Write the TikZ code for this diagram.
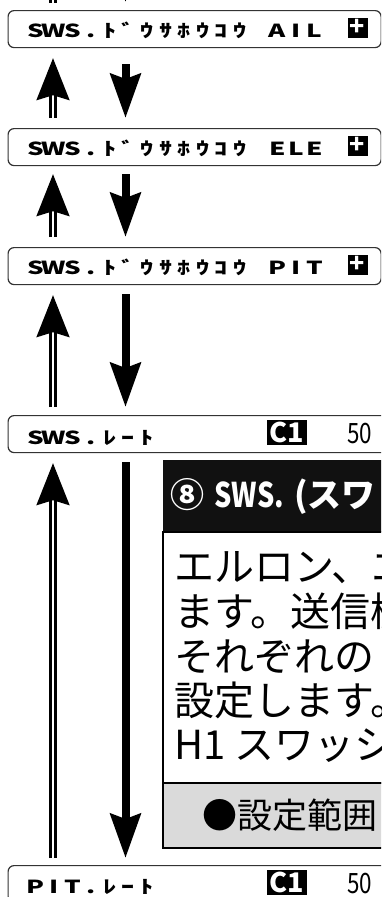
\documentclass[tikz,border=0pt]{standalone}
\usepackage{fontspec}
\usepackage{graphicx}
\usetikzlibrary{arrows.meta,calc}
\newfontfamily\jp{Noto Sans CJK JP}
\definecolor{boxline}{HTML}{333333}
\definecolor{hdrblack}{HTML}{111111}
\definecolor{graybg}{HTML}{DADADA}
\newcommand\lcdcell[1]{\makebox[18.6pt][c]{\scalebox{1.45}[1]{#1}}}
\def\lcdend{\lcdend}
\def\lcdrun#1{\ifx#1\lcdend\else\lcdcell{#1}\expandafter\lcdrun\fi}
\newcommand\lcd[1]{\lcdrun#1\lcdend}
\tikzset{
 lcdbox/.style={draw=boxline, line width=1.2pt, rounded corners=6pt, anchor=north west, minimum height=37pt, inner sep=0pt},
 uparr/.style={double=white, draw=black, line width=2.3pt, double distance=2.6pt, -{Stealth[length=42pt,width=33pt,inset=5pt]}},
 dnarr/.style={draw=black, line width=8pt, -{Stealth[length=44pt,width=30pt,inset=5pt]}},
 lcdtxt/.style={anchor=base west, inner sep=0pt, font=\jp\bfseries\fontsize{18}{18}\selectfont},
 plusbox/.style={fill=black, text=white, minimum size=20pt, inner sep=0pt, font=\jp\bfseries\fontsize{25}{25}\selectfont},
 cbox/.style={fill=black, text=white, minimum width=40pt, minimum height=25pt, inner sep=0pt, font=\jp\bfseries\fontsize{27}{27}\selectfont},
 bignum/.style={anchor=base west, inner sep=0pt, font=\jp\fontsize{28}{28}\selectfont},
 bodytxt/.style={anchor=base west, inner sep=0pt, font=\jp\fontsize{40}{40}\selectfont},
 graytxt/.style={anchor=base west, inner sep=0pt, font=\jp\fontsize{35}{35}\selectfont},
 hdrtxt/.style={anchor=base west, inner sep=0pt, text=white, font=\jp\bfseries\fontsize{34}{34}\selectfont},
}
\begin{document}
\begin{tikzpicture}[x=1pt,y=-1pt]
\useasboundingbox (0,0) rectangle (381,897);
\clip (0,0) rectangle (381,897);
\coordinate (ux) at (53,0);
\coordinate (dx) at (125.5,0);
% LCD boxes
\node[lcdbox, minimum width=373pt] (b1) at (7.5,10) {};
\node[lcdbox, minimum width=373pt] (b2) at (7.5,128) {};
\node[lcdbox, minimum width=373pt] (b3) at (7.5,247) {};
\node[lcdbox, minimum width=420pt] (b4) at (7.5,415) {};
\node[lcdbox, minimum width=420pt] (b5) at (7.5,865) {};
% LCD texts (baselines)
\node[lcdtxt] (t1) at (26,37.5) {\lcd{SWS.ﾄﾞｳｻﾎｳｺｳ~AIL}};
\node[lcdtxt] (t2) at (26,155.5) {\lcd{SWS.ﾄﾞｳｻﾎｳｺｳ~ELE}};
\node[lcdtxt] (t3) at (26,274.5) {\lcd{SWS.ﾄﾞｳｻﾎｳｺｳ~PIT}};
\node[lcdtxt] (t4) at (26,444.5) {\lcd{SWS.ﾚｰﾄ}};
\node[lcdtxt] (t5) at (26,893.5) {\lcd{PIT.ﾚｰﾄ}};
\node[plusbox] (p1) at (357.5,27.5) {+};
\node[plusbox] (p2) at (357.5,145.5) {+};
\node[plusbox] (p3) at (357.5,264.5) {+};
\node[cbox] (c4) at (287,432.5) {C1};
\node[cbox] (c5) at (287,882.5) {C1};
\node[bignum] (n4) at (347,443.5) {\scalebox{0.8}[1]{50}};
\node[bignum] (n5) at (347,893.5) {\scalebox{0.8}[1]{50}};
% arrows
\draw[uparr] ($(b1.north -| ux)+(0,-7)$) -- ++(0,-60);
\draw[dnarr] ($(b1.north -| dx)+(0,-80)$) -- ($(b1.north -| dx)+(0,-8)$);
\draw[uparr] ($(b2.north -| ux)+(0,-10)$) -- ($(b1.south -| ux)+(0,10)$);
\draw[dnarr] ($(b1.south -| dx)+(0,16)$) -- ($(b2.north -| dx)+(0,-10)$);
\draw[uparr] ($(b3.north -| ux)+(0,-10)$) -- ($(b2.south -| ux)+(0,8)$);
\draw[dnarr] ($(b2.south -| dx)+(0,8)$) -- ($(b3.north -| dx)+(0,-10)$);
\draw[uparr] ($(b4.north -| ux)+(0,-8)$) -- ($(b3.south -| ux)+(0,10)$);
\draw[dnarr] ($(b3.south -| dx)+(0,9)$) -- ($(b4.north -| dx)+(0,-8)$);
\draw[uparr] ($(b5.north -| ux)+(0,-7)$) -- ($(b4.south -| ux)+(0,10)$);
\draw[dnarr] ($(b4.south -| dx)+(0,9)$) -- ($(b5.north -| dx)+(0,-7)$);
% panel
\fill[hdrblack] (163,460) rectangle (420,532);
\draw[black, line width=2.5pt, fill=white] (163,532) rectangle (420,783);
\draw[black, line width=2.5pt, fill=graybg] (163,783) rectangle (420,848);
\node[hdrtxt] (h1) at (170,507) {⑧};
\node[hdrtxt] (h2) at (214,507) {\scalebox{0.8}[1]{SWS.}};
\node[hdrtxt] (h3) at (294,507) {(スワ};
\node[bodytxt] (l1) at (174,581) {エルロン、エ};
\node[bodytxt] (l2) at (174,626) {ます。送信機};
\node[bodytxt] (l3) at (174,671) {それぞれの};
\node[bodytxt] (l4) at (174,715) {設定します。};
\node[bodytxt] (l5) at (174,759) {H1 スワッシ};
\node[graytxt] (g1) at (202,828.5) {●設定範囲};
\end{tikzpicture}
\end{document}
